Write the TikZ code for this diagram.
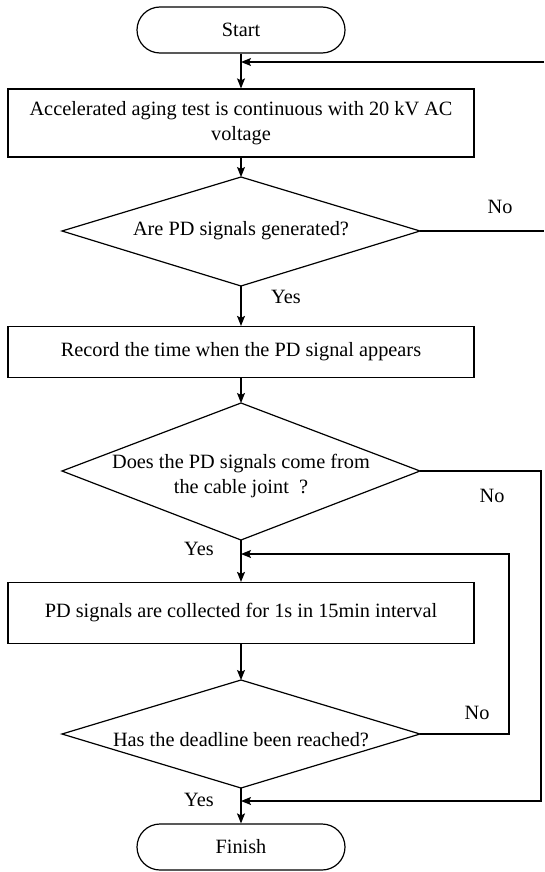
\documentclass[tikz,border=0pt]{standalone}
\usepackage{fontspec}
\setmainfont{Liberation Serif}
\usetikzlibrary{arrows.meta}
\begin{document}
\begin{tikzpicture}[x=1pt,y=-1pt,
  every node/.style={font=\fontsize{20.3}{25.5}\selectfont},
  line/.style={line width=1.2pt,draw=black},
  arr/.style={line, -{Stealth[length=10pt,width=8pt,inset=2pt]}},
  term/.style={line, rectangle, rounded corners=23pt, minimum width=208pt, minimum height=46pt, inner sep=0pt},
  procbox/.style={line, rectangle, minimum width=466pt, inner sep=0pt, align=center},
  dtext/.style={align=center, inner sep=0pt}
]
\useasboundingbox (0,0) rectangle (544,872);
\fill[white] (0,0) rectangle (544,872);

\node[term] (start) at (241,30) {Start};
\node[procbox, minimum height=68pt] (b1) at (241,123) {Accelerated aging test is continuous with 20 kV AC\\voltage};
% decision 1
\coordinate (d1t) at (241,177);
\coordinate (d1b) at (241,286);
\coordinate (d1l) at (62,231);
\coordinate (d1r) at (420,231);
\draw[line] (d1t) -- (d1r) -- (d1b) -- (d1l) -- cycle;
\node[dtext] (d1) at (241,231) {Are PD signals generated?};
\node[procbox, minimum height=51pt] (b2) at (241,352) {Record the time when the PD signal appears};
% decision 2
\coordinate (d2t) at (241,403);
\coordinate (d2b) at (241,540);
\coordinate (d2l) at (62,471);
\coordinate (d2r) at (420,471);
\draw[line] (d2t) -- (d2r) -- (d2b) -- (d2l) -- cycle;
\node[dtext] (d2) at (241,476) {Does the PD signals come from\\the cable joint\ \ ?};
\node[procbox, minimum height=61pt] (b3) at (241,613) {PD signals are collected for 1s in 15min interval};
% decision 3
\coordinate (d3t) at (241,680);
\coordinate (d3b) at (241,788);
\coordinate (d3l) at (62,734);
\coordinate (d3r) at (420,734);
\draw[line] (d3t) -- (d3r) -- (d3b) -- (d3l) -- cycle;
\node[dtext] (d3) at (241,740) {Has the deadline been reached?};
\node[term] (fin) at (241,847) {Finish};

\coordinate (j1) at (241,62);
\coordinate (fb) at (544,62);
\coordinate (d1end) at (544,231);
\coordinate (j2) at (241,554);
\coordinate (j3) at (241,801);

\draw[arr] (start.south) -- (b1.north);
\draw[arr] (fb) -- (j1);
\draw[arr] (b1.south) -- (d1t);
\draw[line] (d1r) -- (d1end);
\draw[arr] (d1b) -- (b2.north);
\draw[arr] (b2.south) -- (d2t);
\draw[arr] (d2r) -- (541,471) -- (541,801) -- (j3);
\draw[arr] (d2b) -- (b3.north);
\draw[arr] (b3.south) -- (d3t);
\draw[arr] (d3r) -- (509,734) -- (509,554) -- (j2);
\draw[arr] (d3b) -- (fin.north);

\node (no1) at (500,207) {No};
\node (yes1) at (286,297) {Yes};
\node (no2) at (492,496) {No};
\node (yes2) at (199,549) {Yes};
\node (no3) at (477,713) {No};
\node (yes3) at (199,800) {Yes};
\end{tikzpicture}
\end{document}
